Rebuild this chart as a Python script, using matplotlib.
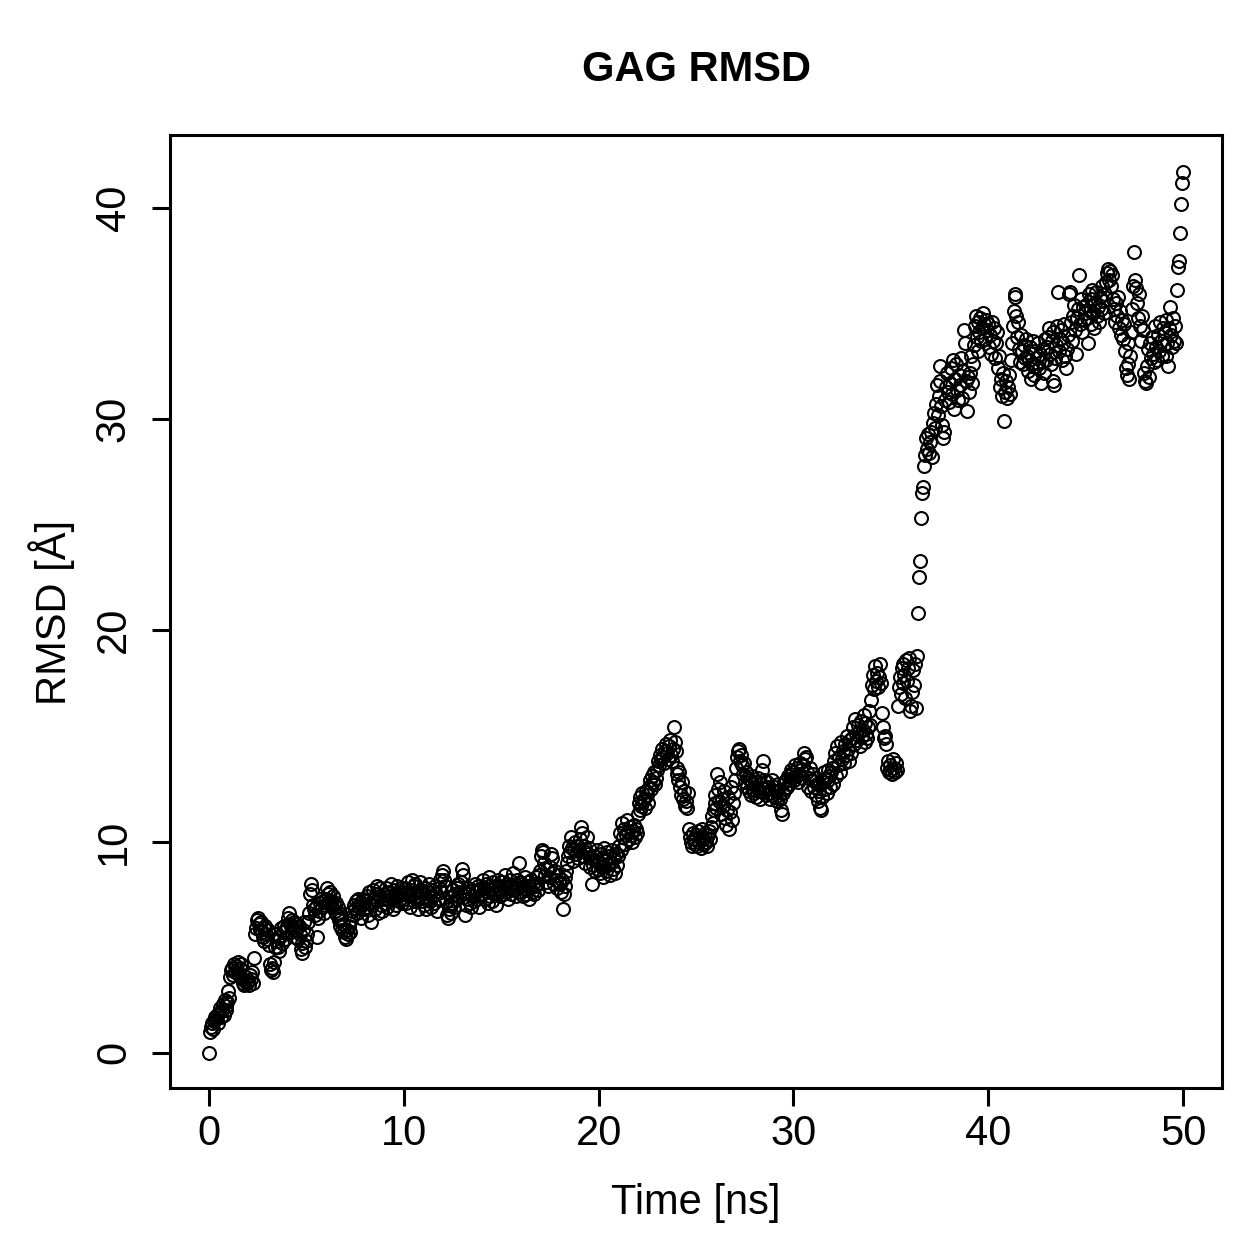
import numpy as np
import matplotlib.pyplot as plt

plt.rcParams['font.family'] = ['Liberation Sans', 'DejaVu Sans']

# RMSD, one value every 0.05 ns
dt = 0.05  # ns

rmsd_00_10 = [
    0.0, 1.0, 1.2, 1.4, 1.1, 1.5, 1.7, 1.6, 1.8, 1.4,
    1.9, 2.1, 1.7, 2.0, 2.3, 1.8, 2.5, 2.2, 2.0, 2.4,
    2.9, 2.6, 3.6, 3.9, 4.0, 3.7, 4.2, 3.8, 4.1, 3.9,
    4.3, 3.7, 4.0, 4.2, 3.5, 3.3, 3.2, 3.4, 3.6, 3.3,
    3.4, 3.2, 3.7, 3.5, 3.8, 3.3, 4.5, 5.6, 5.9, 6.3,
    6.4, 6.1, 5.8, 6.2, 5.7, 5.5, 5.9, 5.3, 6.0, 5.6,
    5.4, 5.8, 5.1, 4.2, 3.9, 4.0, 3.8, 4.3, 5.0, 5.6,
    5.3, 5.0, 4.8, 5.5, 5.9, 5.2, 5.7, 6.0, 5.4, 5.8,
    6.0, 6.4, 6.6, 6.1, 5.7, 6.3, 5.9, 6.2, 5.5, 5.8,
    6.1, 5.4, 6.0, 5.6, 4.9, 4.7, 5.2, 5.8, 6.2, 5.0,
    5.3, 5.6, 6.2, 6.6, 7.5, 8.0, 7.7, 7.0, 6.8, 6.5,
    6.9, 5.5, 6.4, 6.7, 7.1, 7.3, 6.9, 7.2, 6.6, 7.0,
    7.3, 7.8, 7.5, 7.1, 7.6, 7.2, 6.9, 7.4, 7.0, 6.7,
    7.1, 6.5, 6.9, 6.3, 6.6, 6.0, 6.4, 5.8, 6.1, 5.7,
    5.5, 5.4, 5.8, 5.6, 6.0, 5.7, 6.3, 6.7, 6.5, 7.0,
    6.8, 7.2, 6.6, 7.3, 6.9, 7.1, 6.4, 7.0, 7.3, 6.8,
    7.2, 6.9, 7.4, 6.5, 7.6, 7.1, 6.2, 7.0, 7.7, 7.3,
    6.8, 7.5, 7.9, 7.2, 6.6, 7.4, 7.8, 7.0, 6.7, 7.3,
    7.5, 7.1, 7.8, 6.9, 7.4, 7.6, 7.2, 8.0, 7.3, 6.8,
    7.7, 7.5, 7.0, 7.9, 7.4, 7.2, 7.6, 7.8, 7.1, 7.5,
]

rmsd_10_20 = [
    7.3, 7.8, 7.1, 7.6, 8.1, 7.4, 6.9, 7.7, 8.2, 7.5,
    7.2, 7.9, 8.0, 7.3, 7.6, 6.8, 7.4, 8.1, 7.7, 7.2,
    7.5, 7.0, 7.8, 6.8, 7.3, 7.6, 8.0, 7.2, 6.9, 7.7,
    7.4, 7.1, 7.9, 7.5, 6.7, 7.3, 7.8, 8.2, 7.6, 8.4,
    8.6, 8.2, 7.9, 7.2, 6.5, 6.4, 6.8, 7.0, 6.6, 7.4,
    7.1, 7.7, 6.9, 7.5, 7.3, 7.8, 8.0, 7.4, 7.6, 8.1,
    8.7, 8.4, 7.6, 6.5, 7.0, 7.3, 7.8, 7.5, 7.1, 6.9,
    7.4, 7.7, 7.2, 8.0, 7.6, 7.3, 7.9, 6.9, 7.4, 7.8,
    7.5, 8.2, 7.8, 7.3, 8.0, 7.6, 7.1, 7.9, 8.3, 7.4,
    7.7, 7.2, 8.1, 7.5, 7.9, 7.0, 7.6, 8.2, 7.8, 7.4,
    7.7, 8.1, 7.5, 7.9, 8.4, 7.6, 8.0, 7.3, 7.8, 8.2,
    7.5, 7.9, 8.5, 7.7, 8.0, 7.4, 8.2, 7.8, 9.0, 8.1,
    7.6, 8.0, 7.4, 7.8, 8.3, 7.5, 7.9, 7.7, 8.1, 7.3,
    7.8, 8.2, 7.6, 8.0, 7.5, 7.9, 8.3, 8.0, 7.7, 8.4,
    8.6, 9.3, 9.6, 9.5, 9.0, 8.4, 8.1, 8.7, 7.9, 8.3,
    8.8, 9.4, 9.2, 8.5, 8.0, 8.6, 8.2, 7.8, 8.4, 8.1,
    8.0, 7.6, 8.2, 6.8, 7.5, 7.9, 8.3, 8.6, 9.0, 9.3,
    9.8, 9.5, 10.2, 9.7, 9.1, 9.6, 10.0, 9.4, 9.8, 9.2,
    9.6, 10.1, 10.7, 10.4, 9.3, 9.8, 9.0, 9.5, 10.2, 9.4,
    9.7, 8.8, 9.2, 8.0, 8.9, 9.3, 8.6, 9.1, 9.6, 8.7,
]

rmsd_20_30 = [
    9.0, 8.5, 9.4, 8.8, 9.2, 8.3, 9.7, 9.1, 8.6, 9.5,
    8.9, 9.3, 8.4, 9.0, 9.6, 8.7, 9.2, 8.5, 9.4, 8.9,
    9.3, 9.8, 10.4, 9.6, 10.9, 10.2, 10.6, 9.9, 10.3, 11.0,
    10.5, 10.1, 10.7, 10.3, 10.0, 10.5, 10.8, 10.2, 10.6, 10.4,
    11.3, 11.8, 11.5, 12.1, 11.7, 12.3, 11.9, 12.0, 11.6, 12.4,
    12.2, 11.8, 12.6, 12.9, 12.5, 13.1, 12.8, 13.3, 12.7, 13.0,
    13.4, 13.8, 13.6, 14.1, 13.9, 14.4, 14.0, 13.7, 14.3, 14.6,
    14.2, 13.9, 14.5, 14.8, 14.1, 13.8, 14.4, 15.4, 14.7, 14.3,
    13.5, 13.2, 12.9, 13.3, 12.6, 12.2, 12.8, 12.0, 12.4, 11.7,
    11.9, 11.6, 12.3, 10.6, 10.2, 10.0, 9.8, 10.4, 10.1, 9.9,
    10.3, 9.8, 10.5, 10.0, 10.2, 9.7, 10.6, 10.1, 9.9, 10.4,
    10.0, 9.8, 10.3, 10.5, 10.1, 10.7, 11.2, 10.9, 11.5, 11.8,
    12.2, 11.6, 13.2, 12.5, 11.9, 12.8, 11.3, 12.0, 11.7, 12.4,
    11.1, 10.8, 11.5, 12.1, 10.6, 11.4, 12.6, 11.0, 11.8, 12.3,
    12.9, 13.5, 14.0, 14.3, 14.4, 13.8, 14.1, 13.6, 13.2, 13.7,
    12.8, 13.3, 12.6, 13.0, 12.4, 12.9, 12.2, 12.7, 13.1, 12.5,
    12.3, 12.8, 12.1, 12.6, 13.0, 12.4, 12.0, 12.7, 13.4, 13.8,
    12.9, 12.5, 12.2, 12.8, 12.6, 12.3, 12.0, 12.5, 12.9, 12.2,
    12.6, 12.1, 12.4, 11.9, 12.7, 12.2, 12.0, 11.5, 11.3, 12.3,
    12.8, 12.5, 12.9, 12.6, 13.1, 12.7, 13.2, 12.9, 13.4, 13.0,
]

rmsd_30_40 = [
    13.3, 12.9, 13.6, 13.1, 13.5, 12.8, 13.2, 13.7, 13.4, 13.0,
    13.6, 14.2, 13.9, 14.0, 13.3, 12.6, 13.0, 13.5, 12.4, 12.9,
    13.2, 12.6, 13.0, 12.2, 12.7, 11.9, 12.4, 11.6, 11.5, 12.1,
    12.8, 13.3, 12.5, 13.0, 12.3, 13.4, 12.9, 13.1, 12.6, 13.3,
    13.5, 12.7, 13.8, 14.2, 13.1, 14.5, 13.6, 14.0, 13.3, 14.7,
    13.9, 14.3, 13.7, 14.6, 14.1, 15.0, 14.4, 13.8, 14.8, 14.2,
    14.9, 15.4, 14.6, 15.8, 15.1, 14.8, 15.5, 15.2, 14.5, 15.7,
    15.0, 15.3, 16.0, 14.7, 15.6, 15.1, 14.9, 15.4, 16.2, 15.5,
    16.7, 17.4, 17.9, 17.2, 18.3, 17.6, 18.0, 17.3, 17.8, 18.4,
    17.5, 16.1, 15.4, 14.9, 15.0, 14.6, 13.5, 13.8, 13.3, 13.6,
    13.4, 13.2, 13.9, 13.5, 13.3, 13.7, 13.4, 16.4, 17.3, 17.8,
    17.0, 18.2, 17.5, 18.4, 17.9, 16.8, 18.6, 17.6, 18.2, 18.7,
    16.2, 16.4, 17.1, 18.1, 17.4, 18.4, 16.3, 18.8, 20.8, 22.5,
    23.3, 25.3, 26.5, 26.8, 27.8, 28.3, 29.1, 28.6, 29.3, 28.4,
    28.9, 29.4, 28.2, 29.8, 30.3, 29.6, 30.7, 31.6, 30.2, 31.1,
    32.5, 31.8, 30.6, 29.7, 29.1, 29.4, 30.9, 31.5, 32.2, 31.3,
    30.8, 31.7, 32.4, 31.2, 32.8, 30.5, 31.9, 32.6, 31.4, 30.9,
    32.1, 31.6, 32.9, 31.0, 32.3, 34.2, 33.6, 31.8, 30.4, 32.0,
    31.3, 32.2, 33.0, 31.7, 32.6, 33.5, 34.4, 34.9, 33.9, 34.6,
    33.2, 34.1, 34.8, 33.7, 34.3, 35.0, 34.5, 33.8, 34.7, 34.2,
]

rmsd_40_50 = [
    34.5, 33.4, 34.0, 33.1, 34.6, 33.7, 34.3, 32.9, 33.6, 34.1,
    32.4, 33.0, 31.5, 31.9, 31.1, 32.2, 29.9, 31.3, 31.8, 31.0,
    31.5, 32.1, 31.2, 32.8, 33.6, 34.4, 35.1, 35.9, 35.8, 34.9,
    33.9, 34.6, 33.3, 32.7, 34.0, 33.2, 32.6, 33.5, 32.9, 33.8,
    33.0, 32.3, 32.8, 33.4, 31.9, 32.6, 33.7, 32.1, 33.2, 32.5,
    32.9, 33.6, 32.4, 33.1, 31.7, 32.7, 33.3, 32.2, 33.8, 32.8,
    33.4, 33.9, 34.3, 33.1, 32.6, 33.7, 34.1, 31.8, 31.6, 32.9,
    33.5, 34.4, 36.0, 33.2, 33.8, 34.2, 32.8, 33.6, 34.5, 33.0,
    32.4, 33.3, 34.0, 35.9, 36.0, 34.6, 33.7, 34.9, 35.4, 34.2,
    33.1, 34.8, 35.2, 36.8, 34.5, 35.7, 34.1, 35.3, 34.7, 35.0,
    35.4, 34.8, 33.6, 35.9, 35.1, 34.5, 35.7, 36.1, 35.0, 34.3,
    35.5, 36.0, 34.9, 35.3, 34.6, 35.8, 35.2, 36.3, 35.6, 35.0,
    35.9, 36.5, 36.9, 37.1, 36.6, 37.0, 36.3, 36.8, 35.7, 35.2,
    34.6, 35.5, 34.9, 35.8, 34.3, 35.1, 34.0, 34.7, 33.8, 34.5,
    33.2, 32.4, 32.1, 33.6, 32.6, 31.9, 33.0, 34.1, 35.2, 36.3,
    37.9, 36.6, 36.2, 35.5, 34.8, 35.9, 34.4, 33.7, 34.9, 34.2,
    32.2, 31.8, 31.7, 32.5, 33.3, 32.0, 33.6, 32.9, 33.9, 33.1,
    32.7, 34.4, 33.4, 32.8, 34.0, 33.2, 34.6, 33.7, 33.0, 34.3,
    33.5, 34.1, 33.0, 34.7, 33.6, 32.5, 34.3, 35.3, 34.0, 33.4,
    34.8, 33.7, 34.4, 33.6, 36.1, 37.2, 37.5, 38.8, 40.2, 41.2,
    41.7,
]

rmsd = np.array(rmsd_00_10 + rmsd_10_20 + rmsd_20_30 + rmsd_30_40 + rmsd_40_50)
time_ns = np.arange(len(rmsd)) * dt

fig = plt.figure(figsize=(12.59, 12.59), dpi=100)
ax = fig.add_axes([170 / 1259, 1 - 1088 / 1259, 1052 / 1259, 953 / 1259])

ax.plot(time_ns, rmsd, 'o', mfc='none', mec='black', ms=9.3, mew=1.5)

ax.set_xlim(-2, 52)
ax.set_ylim(-1.67, 43.45)
ax.set_xticks([0, 10, 20, 30, 40, 50])
ax.set_yticks([0, 10, 20, 30, 40])

for sp in ax.spines.values():
    sp.set_linewidth(2.2)
ax.tick_params(length=13, width=2.2, labelsize=30)
ax.tick_params(axis='x', pad=6)
ax.tick_params(axis='y', pad=13)
for lbl in ax.get_yticklabels():
    lbl.set_rotation(90)
    lbl.set_va('center')

fig.text(696 / 1259, 1 - 70 / 1259, 'GAG RMSD', ha='center', va='center',
         fontsize=30, fontweight='bold')
fig.text(696 / 1259, 1 - 1203 / 1259, 'Time [ns]', ha='center', va='center',
         fontsize=30)
fig.text(52 / 1259, 1 - 612 / 1259, 'RMSD [Å]', ha='center', va='center',
         rotation=90, fontsize=30)

fig.savefig('out.png', dpi=100)
